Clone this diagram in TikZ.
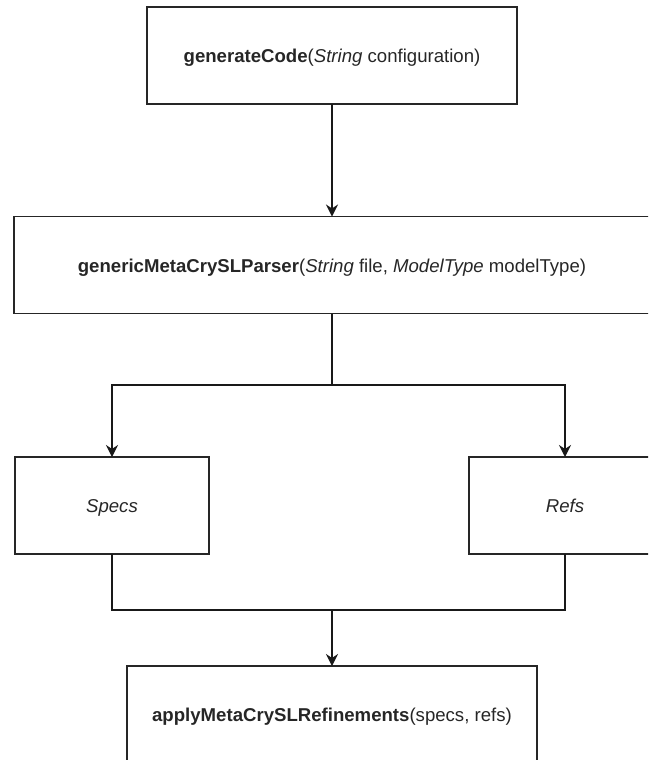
\documentclass[tikz,border=0pt]{standalone}
\usepackage{fontspec}
\setmainfont{Liberation Sans}
\usetikzlibrary{arrows,arrows.meta,positioning}

\begin{document}
\begin{tikzpicture}
\tikzstyle{block}=[rectangle,draw=black!85,line width=1.2pt,
inner sep=0pt,outer sep=0pt,text=black!85,text height=18.2pt,text depth=3.9pt,
font=\fontsize{18.6}{22}\selectfont,minimum height=97pt]
\tikzstyle{link}=[draw=black!90,line width=1.2pt]
\tikzstyle{flow}=[link,-{Stealth[length=12pt,width=12pt,inset=4pt]}]
\useasboundingbox (-332pt,55.5pt) rectangle (316pt,-704.5pt);
\clip (-332pt,55.5pt) rectangle (316pt,-704.5pt);

\node[block,minimum width=370pt] at (0,0) (gen) {\textbf{generateCode}(\textit{String} configuration)};
\node[block,minimum width=636pt,below of =gen,node distance=209.5pt] (parser) {\textbf{genericMetaCrySLParser}(\textit{String} file, \textit{ModelType} modelType)};
\node[block,minimum width=194pt,below of =parser,node distance=240.5pt,xshift=-220pt] (specs) {\textit{Specs}};
\node[block,minimum width=192pt,below of =parser,node distance=240.5pt,xshift=233pt] (refs) {\textit{Refs}};
\node[block,minimum width=410pt,below of =parser,node distance=449.5pt] (apply) {\textbf{applyMetaCrySLRefinements}(specs, refs)};

\coordinate[below of =parser,node distance=120pt] (split);
\coordinate[below of =specs,node distance=104.5pt,xshift=220pt] (join);

\draw[flow] (gen) -- (parser) ;
\draw[flow] (parser) -- (split) -| (specs) ;
\draw[flow] (split) -| (refs) ;
\draw[link] (specs) |- (join) -| (refs) ;
\draw[flow] (join) -- (apply) ;

\end{tikzpicture}
\end{document}
